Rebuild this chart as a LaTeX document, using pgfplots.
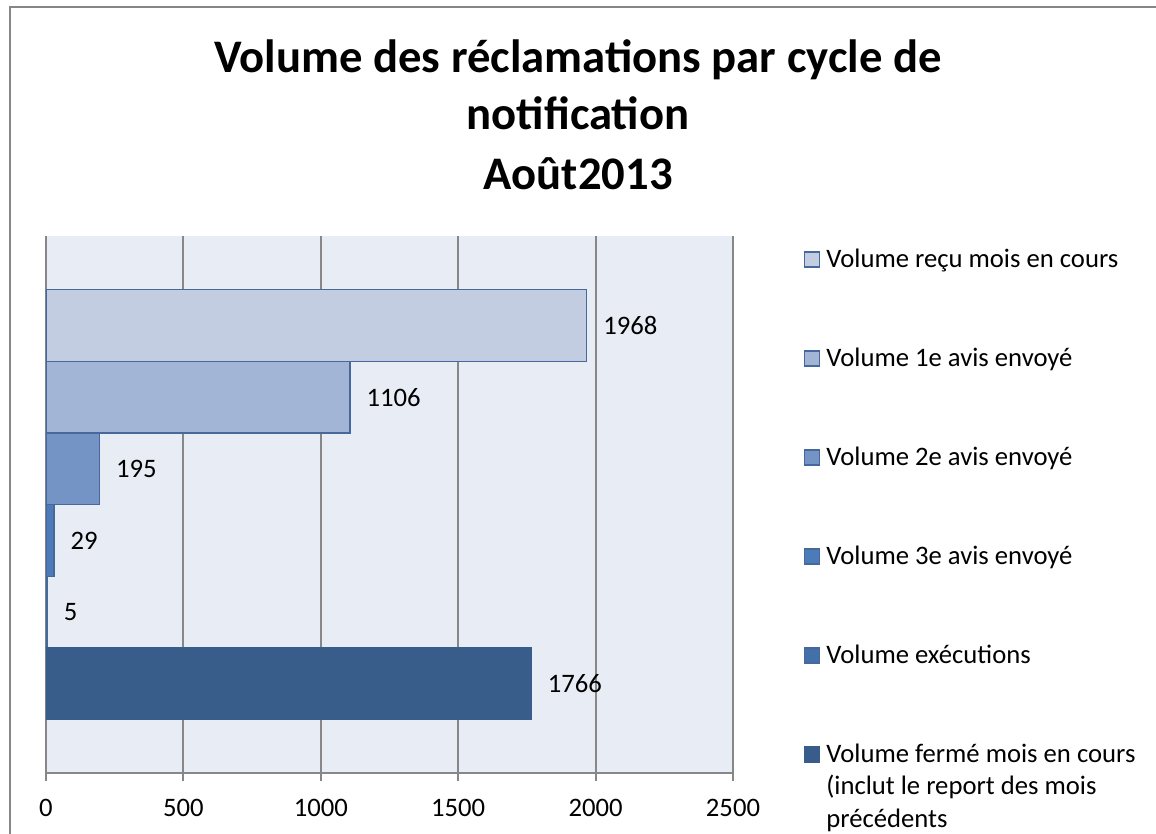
\documentclass[border=0pt]{standalone}
\usepackage{pgfplots}
\pgfplotsset{compat=1.18}
\usepackage{fontspec}
\setmainfont{Carlito}
\definecolor{c1}{HTML}{C3CDE1}
\definecolor{c2}{HTML}{A2B5D6}
\definecolor{c3}{HTML}{7494C6}
\definecolor{c4}{HTML}{4B7BB9}
\definecolor{c5}{HTML}{4470AA}
\definecolor{c6}{HTML}{385D8A}
\definecolor{edge}{HTML}{46689A}
\definecolor{gridgray}{HTML}{878787}
\definecolor{bordergray}{HTML}{868686}
\definecolor{bgcol}{HTML}{E8ECF4}
\begin{document}
\begin{tikzpicture}
\useasboundingbox (0,0) rectangle (867pt,624.75pt);
\draw[color=bordergray, line width=1.5pt] (7.5pt,-2pt) -- (7.5pt,619.3pt) -- (870pt,619.3pt);
\node[anchor=base, font=\fontsize{35}{42}\selectfont\bfseries] at (433.5pt,570pt) {Volume des réclamations par cycle de};
\node[anchor=base, font=\fontsize{35}{42}\selectfont\bfseries] at (433.5pt,527.25pt) {notification};
\node[anchor=base, font=\fontsize{35}{42}\selectfont\bfseries] at (433.5pt,482.25pt) {Août2013};
\begin{axis}[
  at={(34.5pt,45pt)}, anchor=south west, scale only axis,
  width=515.25pt, height=402.75pt,
  xmin=0, xmax=2500, ymin=-0.245, ymax=7.25,
  axis x line*=bottom, axis y line=none,
  xbar, bar width=1,
  xtick={0,500,1000,1500,2000,2500}, ytick=\empty,
  xmajorgrids, grid style={color=gridgray, line width=1.5pt},
  axis line style={color=gridgray, line width=1.5pt},
  tick style={color=gridgray, line width=1.5pt},
  tick align=outside, major tick length=6pt,
  axis background/.style={fill=bgcol},
  /pgf/number format/assume math mode=true,
  /pgf/number format/1000 sep={},
  ticklabel style={font=\fontsize{20}{24}\selectfont, color=black},
  xticklabel style={yshift=-10pt},
  point meta=x,
  nodes near coords,
  every node near coord/.append style={anchor=west, inner xsep=0pt, xshift=12pt, font=\fontsize{20}{24}\selectfont, color=black},
  every axis plot post/.append style={bar shift=0pt, line width=0.9pt,
    legend image code/.code={\draw[##1, line width=1pt] (0pt,0pt) rectangle (11.25pt,11.25pt);}},
  legend style={at={(1.10335,0.97703)}, anchor=north west, draw=none, fill=none,
    inner sep=0pt, outer sep=0pt, row sep=56.25pt, column sep=4.5pt,
    font=\fontsize{20}{24}\selectfont,
    cells={anchor=base west},
    nodes={inner sep=0pt, text height=14pt, text depth=4pt, anchor=base west}},
]
\addplot[fill=c1, draw=edge] coordinates {(1968,6)};
\addlegendentry{Volume reçu mois en cours}
\addplot[fill=c2, draw=edge] coordinates {(1106,5)};
\addlegendentry{Volume 1e avis envoyé}
\addplot[fill=c3, draw=edge] coordinates {(195,4)};
\addlegendentry{Volume 2e avis envoyé}
\addplot[fill=c4, draw=edge] coordinates {(29,3)};
\addlegendentry{Volume 3e avis envoyé}
\addplot[fill=c5, draw=edge] coordinates {(5,2)};
\addlegendentry{Volume exécutions}
\addplot[fill=c6, draw=c6] coordinates {(1766,1)};
\addlegendentry{\vtop{\baselineskip=24.4pt\lineskiplimit=-100pt\hbox{Volume fermé mois en cours}\hbox{(inclut le report des mois}\hbox{précédents}}}
\end{axis}
\end{tikzpicture}
\end{document}
